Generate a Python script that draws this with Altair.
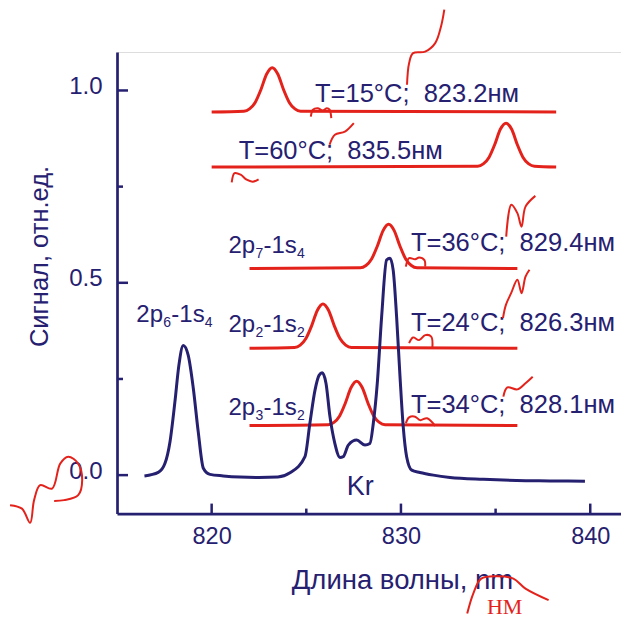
import altair as alt
import pandas as pd

NAVY = "#262070"
RED = "#e3231b"
FONT = "Liberation Sans"

# ---- Kr spectrum (navy) ----
kr_x = [816.45, 817.18, 817.53, 817.80, 818.06, 818.27, 818.50, 818.76, 819.03, 819.29,
        819.56, 819.91, 820.61, 821.5, 822.5, 823.5, 824.14, 824.93, 825.19, 825.46,
        825.68, 825.84, 826.04, 826.25, 826.51, 826.78, 826.95, 827.22, 827.66, 828.10,
        828.36, 828.54, 828.75, 828.98, 829.24, 829.42, 829.59, 829.77, 829.95, 830.12,
        830.30, 830.57, 831.00, 831.71, 832.59, 834.35, 836.11, 837.87, 839.72]
kr_y = [-0.002, 0.007, 0.030, 0.087, 0.191, 0.286, 0.337, 0.312, 0.226, 0.113,
        0.018, 0.002, -0.002, -0.005, -0.006, -0.005, 0.006, 0.048, 0.135, 0.221,
        0.260, 0.266, 0.239, 0.152, 0.082, 0.046, 0.048, 0.078, 0.091, 0.078,
        0.082, 0.135, 0.239, 0.412, 0.559, 0.564, 0.533, 0.412, 0.256, 0.126,
        0.048, 0.013, 0.007, 0.000, -0.006, -0.011, -0.014, -0.015, -0.016]

# ---- red traces (offset laser lines) ----
t15_x = [820.0, 821.7, 822.0, 822.3, 822.6, 822.9, 823.2, 823.5, 823.8, 824.1, 824.4, 824.7, 838.2]
t15_y = [0.944, 0.946, 0.952, 0.969, 1.002, 1.042, 1.059, 1.042, 1.002, 0.969, 0.952, 0.946, 0.944]

t60_x = [820.0, 834.05, 834.35, 834.65, 834.95, 835.25, 835.55, 835.85, 836.15, 836.45, 836.75, 837.05, 838.2]
t60_y = [0.801, 0.803, 0.809, 0.826, 0.859, 0.899, 0.915, 0.899, 0.859, 0.826, 0.809, 0.803, 0.801]

t36_x = [822.0, 827.85, 828.15, 828.45, 828.75, 829.05, 829.35, 829.65, 829.95, 830.25, 830.55, 830.85, 836.15]
t36_y = [0.537, 0.539, 0.545, 0.562, 0.595, 0.635, 0.652, 0.635, 0.595, 0.562, 0.545, 0.539, 0.537]

t24_x = [822.0, 824.38, 824.68, 824.98, 825.28, 825.58, 825.88, 826.18, 826.48, 826.78, 827.08, 827.38, 836.15]
t24_y = [0.330, 0.332, 0.338, 0.355, 0.388, 0.428, 0.445, 0.428, 0.388, 0.355, 0.338, 0.332, 0.330]

t34_x = [822.0, 826.16, 826.46, 826.76, 827.06, 827.36, 827.66, 827.96, 828.26, 828.56, 828.86, 829.16, 836.15]
t34_y = [0.129, 0.131, 0.137, 0.154, 0.187, 0.227, 0.244, 0.227, 0.187, 0.154, 0.137, 0.131, 0.129]

# ---- hand-drawn red proof marks ----
mk1_x = [830.32, 830.43, 830.64, 831.28, 831.81, 832.12, 832.29]
mk1_y = [1.015, 1.071, 1.097, 1.101, 1.123, 1.167, 1.210]
mk2_x = [825.24, 825.35, 825.60, 825.87, 826.09, 826.23, 826.32]
mk2_y = [0.932, 0.950, 0.954, 0.948, 0.954, 0.950, 0.928]
mk3_x = [826.23, 826.51, 827.04, 827.51]
mk3_y = [0.859, 0.885, 0.893, 0.915]
mk4_x = [821.06, 821.21, 821.53, 821.85, 822.17, 822.48]
mk4_y = [0.761, 0.785, 0.781, 0.768, 0.763, 0.769]
mk5_x = [835.56, 835.83, 836.15, 836.37, 836.58, 837.10]
mk5_y = [0.620, 0.703, 0.681, 0.646, 0.698, 0.726]
mk6_x = [830.26, 830.43, 830.75, 830.96, 831.24, 831.28]
mk6_y = [0.542, 0.564, 0.561, 0.566, 0.559, 0.542]
mk7_x = [835.39, 835.54, 835.82, 836.15, 836.37, 836.58, 836.79]
mk7_y = [0.408, 0.442, 0.473, 0.508, 0.473, 0.516, 0.534]
mk8_x = [830.43, 830.64, 830.96, 831.28, 831.60, 831.66]
mk8_y = [0.343, 0.358, 0.351, 0.364, 0.360, 0.330]
mk9_x = [835.41, 835.62, 836.15, 836.58, 836.96]
mk9_y = [0.204, 0.228, 0.223, 0.239, 0.256]
mk10_x = [830.26, 830.43, 830.75, 831.01, 831.38, 831.81]
mk10_y = [0.135, 0.150, 0.152, 0.143, 0.148, 0.128]
mk11_x = [809.35, 809.98, 810.41, 810.62, 810.94, 811.57, 812.00, 812.42, 812.95, 813.16, 812.95, 812.21, 811.68]
mk11_y = [-0.078, -0.087, -0.124, -0.065, -0.026, -0.035, 0.030, 0.048, 0.030, -0.013, -0.052, -0.065, -0.067]
mk12_x = [833.50, 833.82, 834.24, 835.09, 835.94, 836.58, 837.80]
mk12_y = [-0.360, -0.308, -0.269, -0.263, -0.269, -0.295, -0.325]

# ---- annotation texts ----
t_texts = ["T=15°C;\u00a0\u00a0823.2нм", "T=60°C;\u00a0\u00a0835.5нм", "T=36°C;\u00a0\u00a0829.4нм",
           "T=24°C;\u00a0\u00a0826.3нм", "T=34°C;\u00a0\u00a0828.1нм"]
t_text_x = [825.46, 821.43, 830.53, 830.53, 830.53]
t_text_y = [0.971, 0.821, 0.582, 0.375, 0.161]

tr_main1 = ["2p", "2p", "2p", "2p"]
tr_sub1 = ["6", "7", "2", "3"]
tr_main2 = ["-1s", "-1s", "-1s", "-1s"]
tr_sub2 = ["4", "4", "2", "2"]
tr_x = [816.02, 820.89, 820.89, 820.89]
tr_y = [0.399, 0.577, 0.373, 0.156]

x_ticks_major = [820, 830, 840]
x_ticks_minor = [825, 835]
y_ticks_major = [0.0, 0.5, 1.0]
y_ticks_minor = [0.25, 0.75]

W, H = 504, 461.6

rows = []
for name, xs, ys in [("T15", t15_x, t15_y), ("T60", t60_x, t60_y), ("T36", t36_x, t36_y),
                     ("T24", t24_x, t24_y), ("T34", t34_x, t34_y)]:
    for a, b in zip(xs, ys):
        rows.append({"series": name, "x": a, "y": b})
red_df = pd.DataFrame(rows)
kr_df = pd.DataFrame({"x": kr_x, "y": kr_y})

mrows = []
marks = [mk1_x, mk1_y, mk2_x, mk2_y, mk3_x, mk3_y, mk4_x, mk4_y, mk5_x, mk5_y, mk6_x, mk6_y,
         mk7_x, mk7_y, mk8_x, mk8_y, mk9_x, mk9_y, mk10_x, mk10_y, mk11_x, mk11_y, mk12_x, mk12_y]
for k in range(0, len(marks), 2):
    for i, (a, b) in enumerate(zip(marks[k], marks[k + 1])):
        mrows.append({"mark": k // 2, "o": i, "x": a, "y": b})
mk_df = pd.DataFrame(mrows)

xscale = alt.Scale(domain=[815, 815 + W / 18.93], nice=False, zero=False)
yscale = alt.Scale(domain=[-0.1, 1.1], nice=False, zero=False)

x_axis = alt.Axis(values=x_ticks_major, ticks=False, grid=False, domainColor=NAVY, domainWidth=2.7,
                  labelFont=FONT, labelFontSize=23.5, labelColor=NAVY, labelPadding=30,
                  labelBaseline="alphabetic", title="Длина волны, nm", titleFont=FONT,
                  titleFontSize=27.5, titleFontWeight="normal", titleColor=NAVY,
                  titleX=285, titleY=75, titleBaseline="alphabetic", titleAlign="center")
y_axis = alt.Axis(values=y_ticks_major, format=".1f", ticks=False, grid=False, domainColor=NAVY,
                  domainWidth=2.7, labelFont=FONT, labelFontSize=24, labelColor=NAVY,
                  labelPadding=15, labelBaseline="alphabetic", labelOffset=3,
                  title="Сигнал, отн.ед.", titleFont=FONT, titleFontSize=25.5,
                  titleFontWeight="normal", titleColor=NAVY, titleAngle=270, titleX=-70,
                  titleY=204, titleBaseline="alphabetic", titleAlign="center")

red_lines = alt.Chart(red_df).mark_line(interpolate="monotone", strokeWidth=3, color=RED).encode(
    x=alt.X("x:Q", scale=xscale, axis=x_axis),
    y=alt.Y("y:Q", scale=yscale, axis=y_axis),
    detail="series:N",
)
kr_line = alt.Chart(kr_df).mark_line(interpolate="monotone", strokeWidth=3, color=NAVY).encode(
    x="x:Q", y="y:Q")
mk_lines = alt.Chart(mk_df).mark_line(interpolate="catmull-rom", strokeWidth=2, color=RED).encode(
    x="x:Q", y="y:Q", detail="mark:N", order="o:Q")

xt_major = alt.Chart(pd.DataFrame({"x": x_ticks_major})).mark_rule(color=NAVY, strokeWidth=2.5).encode(
    x="x:Q", y=alt.value(H), y2=alt.value(H - 10))
xt_minor = alt.Chart(pd.DataFrame({"x": x_ticks_minor})).mark_rule(color=NAVY, strokeWidth=2.5).encode(
    x="x:Q", y=alt.value(H), y2=alt.value(H - 5))
yt_major = alt.Chart(pd.DataFrame({"y": y_ticks_major})).mark_rule(color=NAVY, strokeWidth=2.5).encode(
    y="y:Q", x=alt.value(0), x2=alt.value(11))
yt_minor = alt.Chart(pd.DataFrame({"y": y_ticks_minor})).mark_rule(color=NAVY, strokeWidth=2.5).encode(
    y="y:Q", x=alt.value(0), x2=alt.value(6))

t_df = pd.DataFrame({"x": t_text_x, "y": t_text_y, "text": t_texts})
t_layer = alt.Chart(t_df).mark_text(align="left", baseline="alphabetic", font=FONT, fontSize=25.5,
                                    color=NAVY).encode(x="x:Q", y="y:Q", text="text:N")

tr_df = pd.DataFrame({"x": tr_x, "y": tr_y, "m1": tr_main1, "s1": tr_sub1, "m2": tr_main2, "s2": tr_sub2})
tr_base = alt.Chart(tr_df)
tr1 = tr_base.mark_text(align="left", baseline="alphabetic", font=FONT, fontSize=24, color=NAVY).encode(
    x="x:Q", y="y:Q", text="m1:N")
tr2 = tr_base.mark_text(align="left", baseline="alphabetic", font=FONT, fontSize=14, color=NAVY,
                        dx=27, dy=5).encode(x="x:Q", y="y:Q", text="s1:N")
tr3 = tr_base.mark_text(align="left", baseline="alphabetic", font=FONT, fontSize=24, color=NAVY,
                        dx=35).encode(x="x:Q", y="y:Q", text="m2:N")
tr4 = tr_base.mark_text(align="left", baseline="alphabetic", font=FONT, fontSize=14, color=NAVY,
                        dx=68.5, dy=5).encode(x="x:Q", y="y:Q", text="s2:N")

kr_lbl = alt.Chart(pd.DataFrame({"x": [827.14], "y": [-0.052], "text": ["Kr"]})).mark_text(
    align="left", baseline="alphabetic", font=FONT, fontSize=27, color=NAVY).encode(
    x="x:Q", y="y:Q", text="text:N")
nm_lbl = alt.Chart(pd.DataFrame({"x": [834.54], "y": [-0.362], "text": ["НМ"]})).mark_text(
    align="left", baseline="alphabetic", font="Liberation Serif", fontSize=22, color=RED).encode(
    x="x:Q", y="y:Q", text="text:N")

chart = alt.layer(
    red_lines, kr_line, xt_major, xt_minor, yt_major, yt_minor,
    t_layer, tr1, tr2, tr3, tr4, kr_lbl, nm_lbl, mk_lines
).properties(
    width=W, height=H,
    autosize=alt.AutoSizeParams(type="none"),
    padding={"left": 109, "top": 44, "right": 0, "bottom": 114},
).configure_view(stroke=None).configure(background="white")

chart.save("out.html", embed_options={"renderer": "svg", "actions": False})
